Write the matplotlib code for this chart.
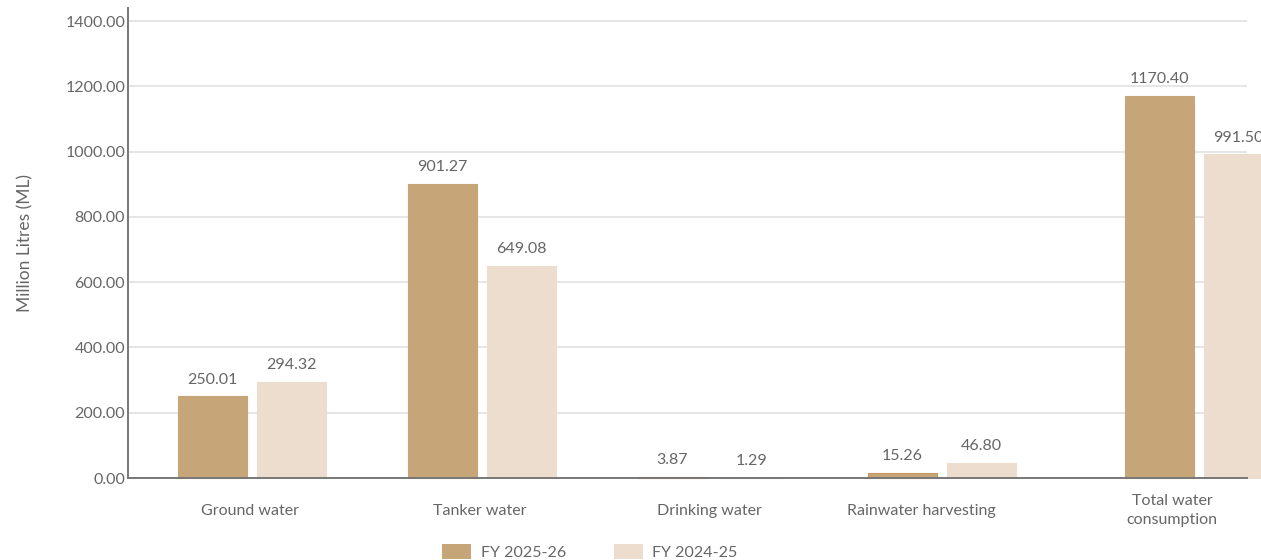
import matplotlib
matplotlib.use("Agg")
import matplotlib.pyplot as plt
from matplotlib.patches import Patch

categories = ["Ground water", "Tanker water", "Drinking water", "Rainwater harvesting", "Total water\nconsumption"]
fy2526 = [250.01, 901.27, 3.87, 15.26, 1170.40]
fy2425 = [294.32, 649.08, 1.29, 46.80, 991.50]
series_names = ["FY 2025-26", "FY 2024-25"]
yticks = [0, 200, 400, 600, 800, 1000, 1200, 1400]

plt.rcParams['font.family'] = ['Lato', 'DejaVu Sans']
TXT = "#666666"
C1 = "#C6A679"
C2 = "#EDDDCE"

fig = plt.figure(figsize=(12.61, 5.6), dpi=100)
ax = fig.add_axes([128/1261, 1-478/560, (1247-128)/1261, (478-8)/560])

centers = [0, 1, 2, 3, 4.117]
label_pos = [-0.01, 0.99, 1.99, 2.91, 4.0]
w = 0.3
off = 0.172
for i, (a, b) in enumerate(zip(fy2526, fy2425)):
    x = centers[i]
    ax.bar(x - off, a, width=w, color=C1, edgecolor="#C69560" if a < 50 else C1,
           linewidth=0.8, clip_on=False, zorder=3)
    ax.bar(x + off, b, width=w, color=C2, edgecolor=C2, linewidth=0.8, clip_on=False, zorder=3)
    ax.annotate(f"{a:.2f}", (x - off, a), xytext=(0, 7), textcoords="offset points",
                ha="center", va="bottom", fontsize=11.5, color=TXT, annotation_clip=False)
    ax.annotate(f"{b:.2f}", (x + off, b), xytext=(0, 7), textcoords="offset points",
                ha="center", va="bottom", fontsize=11.5, color=TXT, annotation_clip=False)

ax.set_xlim(-0.539, 4.326)
ax.set_ylim(0, 1440)
ax.set_yticks(yticks)
ax.set_yticklabels([f"{v:.2f}" for v in yticks])
ax.set_xticks(label_pos)
ax.set_xticklabels(categories, linespacing=1.45)
for lab in ax.get_xticklabels():
    lab.set_va('center')
ax.tick_params(axis='both', length=0, labelsize=11.5, colors=TXT)
ax.tick_params(axis='x', pad=23.5)
ax.tick_params(axis='y', pad=2)
ax.grid(axis='y', color="#E6E6E6", linewidth=1.4, zorder=0)
ax.set_axisbelow(True)
for s in ["top", "right"]:
    ax.spines[s].set_visible(False)
for s in ["left", "bottom"]:
    ax.spines[s].set_color("#777777")
    ax.spines[s].set_linewidth(1.4)
    ax.spines[s].set_zorder(4)

ax.set_ylabel("Million Litres (ML)", fontsize=12.5, color=TXT, labelpad=23)

handles = [Patch(facecolor=C1, label=series_names[0]), Patch(facecolor=C2, label=series_names[1])]
fig.legend(handles=handles, loc="lower center", bbox_to_anchor=(590/1261, -0.025), ncol=2,
           frameon=False, fontsize=11.5, labelcolor=TXT, handlelength=1.8, handleheight=1.1,
           columnspacing=3.0, handletextpad=0.6)

fig.savefig("out.png", dpi=100)
